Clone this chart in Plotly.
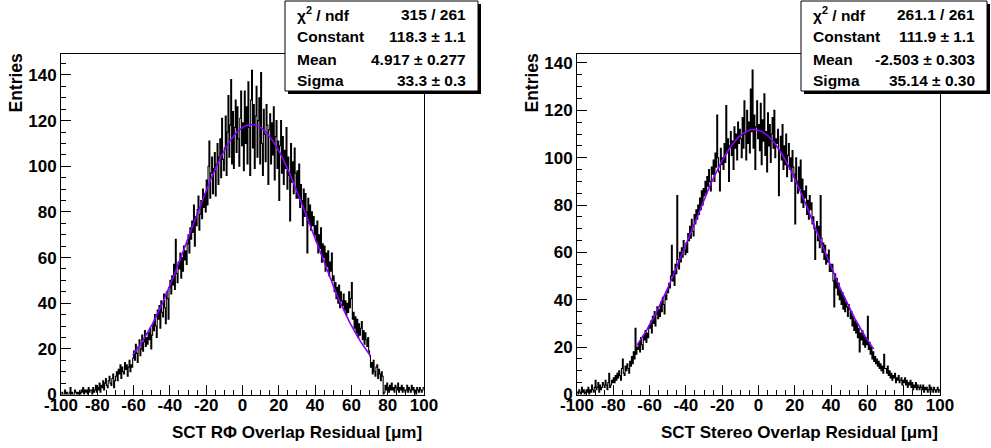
import numpy as np
import plotly.graph_objects as go

# ---------------- data ----------------
BIN_LO, BIN_HI, N_BINS = -100.0, 100.0, 400

rphi_counts = [
    0,1,0,0,2,0,1,0,0,1,3,0,1,0,0,2,1,0,1,0,
    1,0,2,1,3,0,2,1,2,0,3,1,2,2,0,3,1,2,4,1,
    3,2,5,1,4,3,6,2,5,7,4,3,6,8,5,4,7,9,3,6,
    8,10,6,11,9,13,7,12,10,9,14,11,13,8,12,15,10,13,12,16,
    19,15,22,18,14,21,24,17,20,26,19,23,28,21,25,22,27,24,29,20,
    26,31,28,35,30,25,37,33,39,29,41,36,34,44,38,31,45,42,33,47,
    50,44,52,48,57,46,68,53,49,58,55,62,51,60,54,65,59,63,57,66,
    70,62,73,68,76,71,83,65,78,74,81,87,72,79,85,77,90,82,88,80,
    94,83,100,111,86,97,104,88,99,106,87,101,110,92,104,112,95,121,103,98,
    108,122,96,115,131,104,118,138,101,124,99,117,129,106,126,112,100,121,133,109,
    119,98,133,110,126,101,137,117,96,129,142,108,127,99,122,135,104,120,130,101,
    141,110,96,125,114,102,127,118,92,116,123,101,119,105,126,94,113,120,99,111,
    85,109,120,97,113,92,107,99,117,90,104,96,76,110,93,102,88,108,97,86,
    98,86,101,82,92,85,74,90,78,88,80,62,86,75,83,72,80,74,78,70,
    74,67,76,62,70,64,73,58,66,60,65,54,62,56,63,52,58,54,62,50,
    52,45,49,42,47,40,48,38,45,41,39,44,37,41,35,40,36,45,38,42,
    49,33,36,29,34,27,33,25,31,26,29,32,24,28,22,27,24,21,25,19,
    17,12,14,9,15,10,8,12,13,7,11,9,6,10,8,0,1,4,2,5,
    3,1,4,2,5,2,3,1,4,3,2,5,1,3,2,4,1,3,2,1,
    2,4,1,3,2,1,4,2,3,1,2,0,3,2,1,3,2,1,2,3,
]

stereo_counts = [
    1,0,2,1,0,3,1,2,0,1,2,1,3,0,2,1,4,2,1,3,
    6,2,3,5,1,4,2,3,5,4,3,6,4,2,5,9,3,4,6,5,
    7,5,8,6,9,7,10,8,6,11,15,9,8,12,10,13,11,9,14,12,
    16,13,18,15,28,17,20,19,22,18,24,21,19,25,23,27,22,26,24,29,
    28,31,26,33,30,35,29,34,37,32,36,33,39,35,41,38,34,42,40,44,
    43,47,45,50,63,48,52,46,55,51,84,57,53,60,56,62,58,65,61,59,
    64,60,68,65,71,66,74,69,67,76,72,78,74,80,76,83,78,86,80,87,
    84,90,85,92,88,95,90,86,96,93,99,90,102,96,118,100,94,86,104,97,
    100,95,106,98,122,102,108,90,105,111,101,107,95,113,104,110,99,115,106,112,
    108,100,117,104,124,110,99,120,106,115,102,129,111,137,104,118,95,113,124,108,
    114,103,123,97,116,107,127,101,111,94,119,105,114,98,110,117,104,120,100,108,
    106,112,84,103,109,99,114,95,105,97,110,92,101,106,95,100,90,103,96,93,
    72,100,90,85,96,87,99,81,91,79,86,83,88,76,82,74,84,78,81,72,
    75,70,57,69,73,65,71,62,84,66,60,64,57,63,55,59,56,61,52,55,
    52,55,48,37,51,45,49,42,47,40,44,38,43,36,41,35,39,37,33,38,
    36,32,35,29,33,27,31,26,30,24,28,18,26,23,27,21,25,20,24,21,
    33,19,22,17,20,15,18,14,16,13,15,12,14,11,13,10,12,9,17,11,
    11,9,12,8,10,7,9,6,8,7,9,5,7,6,8,5,6,7,4,6,
    5,7,4,6,3,5,4,6,3,5,2,4,3,5,2,4,3,2,4,3,
    2,4,1,3,2,3,1,2,4,1,3,2,1,3,2,1,2,3,1,2,
]

# Gaussian fit parameters as printed in the stats boxes (range as drawn)
rphi_fit = dict(const=118.3, mean=4.917, sigma=33.3, lo=-60.5, hi=70.5)
stereo_fit = dict(const=111.9, mean=-2.503, sigma=35.14, lo=-67.0, hi=63.5)

rphi_stats = [("χ<sup>2</sup> / ndf", "315 / 261"),
              ("Constant", "118.3 ± 1.1"),
              ("Mean", "4.917 ± 0.277"),
              ("Sigma", "33.3 ± 0.3")]
stereo_stats = [("χ<sup>2</sup> / ndf", "261.1 / 261"),
                ("Constant", "111.9 ± 1.1"),
                ("Mean", "-2.503 ± 0.303"),
                ("Sigma", "35.14 ± 0.30")]

x_tick_vals = [-100, -80, -60, -40, -20, 0, 20, 40, 60, 80, 100]
x_tick_text = ["-100", "-80", "-60", "-40", "-20", "0", "20", "40", "60", "80", "100"]
y_tick_vals = [0, 20, 40, 60, 80, 100, 120, 140]
y_tick_text = ["0", "20", "40", "60", "80", "100", "120", "140"]

x_titles = ["SCT RΦ Overlap Residual [μm]", "SCT Stereo Overlap Residual [μm]"]
y_title = "Entries"
y_max = [149.4, 144.0]

# ---------------- layout helpers ----------------
W, H = 991, 448
FONT = "Liberation Sans, Arial, Helvetica, sans-serif"


def px(x):
    return x / W


def py(y):
    return 1 - y / H


panels = [
    dict(x0=61, x1=424, y0=53.5, y1=394.5, counts=rphi_counts, fit=rphi_fit,
         stats=rphi_stats, box=(285, 1, 478, 91), ytitle_x=15),
    dict(x0=577, x1=940, y0=53.5, y1=394.5, counts=stereo_counts, fit=stereo_fit,
         stats=stereo_stats, box=(801, 1, 987, 91), ytitle_x=531),
]

fig = go.Figure()
edges = np.linspace(BIN_LO, BIN_HI, N_BINS + 1)
shapes, annotations = [], []

for i, p in enumerate(panels):
    xa = "x" if i == 0 else "x2"
    ya = "y" if i == 0 else "y2"
    counts = list(p["counts"])
    hx = list(edges)
    hy = counts + [counts[-1]]
    fig.add_trace(go.Scatter(x=hx, y=hy, mode="lines", line=dict(shape="hv", color="black", width=1.1),
                             xaxis=xa, yaxis=ya, showlegend=False, hoverinfo="skip"))
    f = p["fit"]
    fx = np.linspace(f["lo"], f["hi"], 300)
    fy = f["const"] * np.exp(-0.5 * ((fx - f["mean"]) / f["sigma"]) ** 2)
    fig.add_trace(go.Scatter(x=fx, y=fy, mode="lines", line=dict(color="#8800ff", width=1.6),
                             xaxis=xa, yaxis=ya, showlegend=False, hoverinfo="skip"))

    axis_common = dict(showgrid=False, zeroline=False, showline=True, mirror=True, automargin=False,
                       linecolor="black", linewidth=1, ticks="inside", ticklen=10,
                       tickwidth=1, tickcolor="black",
                       tickfont=dict(family=FONT, size=17, color="black", weight="bold"),
                       minor=dict(ticks="inside", ticklen=5, dtick=5, tickcolor="black", tickwidth=1))
    xkey = "xaxis" if i == 0 else "xaxis2"
    ykey = "yaxis" if i == 0 else "yaxis2"
    fig.layout[xkey] = dict(axis_common, domain=[px(p["x0"]), px(p["x1"])], range=[-100, 100],
                            tickmode="array", tickvals=x_tick_vals, ticktext=x_tick_text,
                            ticklabelstandoff=-5, anchor=ya)
    fig.layout[ykey] = dict(axis_common, domain=[py(p["y1"]), py(p["y0"])], range=[0, y_max[i]],
                            tickmode="array", tickvals=y_tick_vals, ticktext=y_tick_text, anchor=xa)

    # axis titles (ROOT style: flush with the end of the axis)
    annotations.append(dict(text=x_titles[i], x=px(p["x1"]), y=py(432), xref="paper", yref="paper",
                            xanchor="right", yanchor="middle", showarrow=False,
                            font=dict(family=FONT, size=17, color="black", weight="bold")))
    annotations.append(dict(text=y_title, x=px(p["ytitle_x"]), y=py(p["y0"] + 29), xref="paper",
                            yref="paper", xanchor="center", yanchor="middle", textangle=-90,
                            showarrow=False,
                            font=dict(family=FONT, size=17.5, color="black", weight="bold")))

    # stats box with drop shadow
    bx0, by0, bx1, by1 = p["box"]
    shapes.append(dict(type="rect", xref="paper", yref="paper", x0=px(bx0 + 3), x1=px(bx1 + 3),
                       y0=py(by1 + 3), y1=py(by0 + 3), fillcolor="black", line=dict(width=0), layer="above"))
    shapes.append(dict(type="rect", xref="paper", yref="paper", x0=px(bx0), x1=px(bx1),
                       y0=py(by1), y1=py(by0), fillcolor="white", line=dict(color="black", width=1),
                       layer="above"))
    row_y = [14, 36, 60, 81]
    for (lab, val), ry in zip(p["stats"], row_y):
        annotations.append(dict(text=lab, x=px(bx0 + 10), y=py(ry), xref="paper", yref="paper",
                                xanchor="left", yanchor="middle", showarrow=False,
                                font=dict(family=FONT, size=15.5, color="black", weight="bold")))
        annotations.append(dict(text=val, x=px(bx1 - 10), y=py(ry), xref="paper", yref="paper",
                                xanchor="right", yanchor="middle", showarrow=False,
                                font=dict(family=FONT, size=15.5, color="black", weight="bold")))

fig.update_layout(width=W, height=H, margin=dict(l=0, r=0, t=0, b=0, autoexpand=False),
                  paper_bgcolor="white", plot_bgcolor="white",
                  shapes=shapes, annotations=annotations)

fig.write_html("out.html", config={"displayModeBar": False},
               post_script="document.body.style.margin='0';document.body.style.padding='0';"
                           "document.body.style.overflow='hidden';")
